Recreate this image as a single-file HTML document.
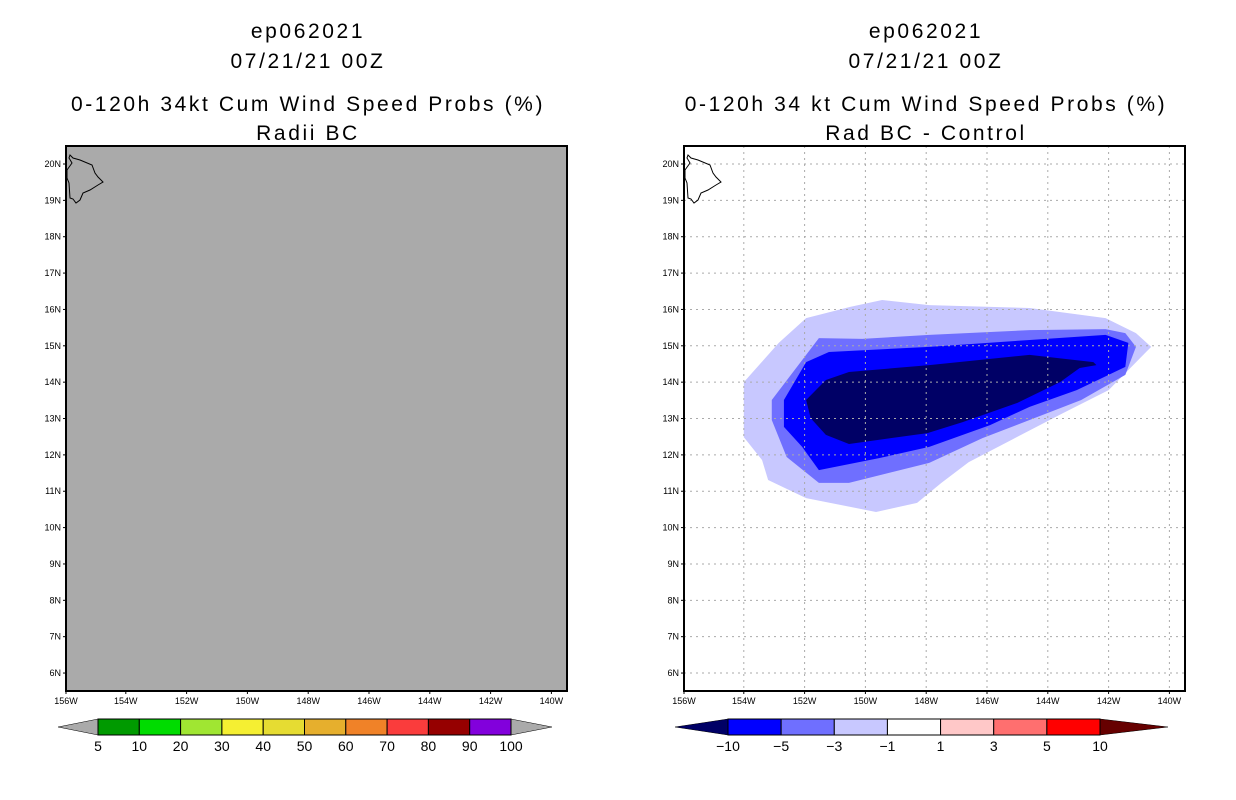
<!DOCTYPE html>
<html><head><meta charset="utf-8"><style>
body{margin:0;background:#fff;width:1236px;height:800px;overflow:hidden}
svg{display:block;font-family:"Liberation Sans",sans-serif}
.t{font-size:21px;letter-spacing:2.6px;text-anchor:middle}
.tk{font-size:9px;text-anchor:middle}
.cb{font-size:14px;text-anchor:middle}
</style></head><body>
<svg id="chart" width="1236" height="800" viewBox="0 0 1236 800">
<g>
<text class="t" x="308" y="38">ep062021</text>
<text class="t" x="308" y="68">07/21/21 00Z</text>
<text class="t" x="308" y="111">0-120h 34kt Cum Wind Speed Probs (%)</text>
<text class="t" x="308" y="140">Radii BC</text>
</g>
<g>
<text class="t" x="926" y="38">ep062021</text>
<text class="t" x="926" y="68">07/21/21 00Z</text>
<text class="t" x="926" y="111">0-120h 34 kt Cum Wind Speed Probs (%)</text>
<text class="t" x="926" y="140">Rad BC - Control</text>
</g>
<g id="left"></g>
<g id="right"></g>
<g id="cbl"></g>
<g id="cbr"></g>
</svg>
<script>
const lonTicks=[154,152,150,148,146,144,142,140];
const latTicks=[6,7,8,9,10,11,12,13,14,15,16,17,18,19,20];
const outerLon=[154.0,154.0,153.4,153.2,151.95,149.65,148.3,147.5,146.6,145.2,143.5,142.0,140.6,141.1,142.1,144.6,147.9,149.45,150.5,151.95,152.85];
const outerLat=[14.0,12.49,11.86,11.31,10.81,10.43,10.68,11.23,11.80,12.41,13.15,13.78,14.97,15.35,15.76,16.04,16.12,16.26,16.07,15.76,15.08];
const midLon=[151.53,153.08,153.08,152.59,151.53,150.54,147.9,146.15,144.6,142.9,141.45,141.1,141.45,142.1,144.6,147.9,150.1];
const midLat=[15.21,13.51,12.96,11.94,11.23,11.23,11.78,12.46,12.96,13.51,14.2,14.97,15.35,15.46,15.43,15.3,15.19];
const blueLon=[151.95,152.68,152.68,152.08,151.53,149.55,147.9,145.9,144.6,143.05,141.45,141.35,142.1,144.6,147.9,151.2];
const blueLat=[14.55,13.51,12.77,12.22,11.58,11.91,12.22,12.82,13.32,13.78,14.42,15.08,15.30,15.16,14.97,14.83];
const darkLon=[151.95,151.3,150.54,147.9,144.6,142.5,142.4,142.95,143.6,145.0,146.8,147.96,150.54,151.3,151.8];
const darkLat=[13.51,14.06,14.28,14.47,14.75,14.55,14.47,14.39,14.0,13.43,12.9,12.6,12.3,12.55,13.01];
const leftLevels=["5","10","20","30","40","50","60","70","80","90","100"];
const leftColors=["#009a00","#00dc00","#a0e632","#f5ef32","#e6dc32","#e6af2d","#f08228","#fa3c3c","#960000","#8200dc"];
const rightLevels=["-10","-5","-3","-1","1","3","5","10"];
const rightColors=["#0000ff","#6f6fff","#c8c8ff","#ffffff","#ffc8c8","#ff6f6f","#ff0000"];
const NS="http://www.w3.org/2000/svg";
function mk(p,tag,a){const e=document.createElementNS(NS,tag);for(const k in a)e.setAttribute(k,a[k]);p.appendChild(e);return e;}
const PY0=146,PW=501,PH=545;
function xs(x0,w){return x0+(156-w)*30.4-1;}
function ys(lat){return 164+(20-lat)*36.36;}
const island=[[4,9],[7,12],[14,14],[26,19],[29,27],[32,31],[37,36],[32,39],[24,44],[17,47],[14,54],[10,57],[7,53],[4,52],[3,37],[1,32],[1,24],[6,17],[3,12]];
function panel(g,x0,grid,fill){
  if(!grid){const r=mk(g,'rect',{x:x0,y:PY0,width:PW,height:PH,fill:fill});}
  else{
    const sets=[[outerLon,outerLat,'#c8c8ff','contour-minus1'],[midLon,midLat,'#6f6fff','contour-minus3'],[blueLon,blueLat,'#0000ff','contour-minus5'],[darkLon,darkLat,'#000066','contour-minus10']];
    sets.forEach(s=>{const pts=s[0].map((w,i)=>xs(x0,w)+','+ys(s[1][i])).join(' ');
      const p=mk(g,'polygon',{points:pts,fill:s[2]});
      
      });
    lonTicks.forEach(w=>{const l=mk(g,'line',{x1:xs(x0,w),x2:xs(x0,w),y1:PY0,y2:PY0+PH,stroke:'#aaa','stroke-dasharray':'2,4'});
      
      });
    latTicks.forEach(v=>{const l=mk(g,'line',{x1:x0,x2:x0+PW,y1:ys(v),y2:ys(v),stroke:'#aaa','stroke-dasharray':'2,4'});
      
      });
  }
  const isl=mk(g,'polygon',{points:island.map(p=>(x0+p[0])+','+(PY0+p[1])).join(' '),fill:'none',stroke:'#000','stroke-width':1});
  
  
  const fr=mk(g,'rect',{x:x0,y:PY0,width:PW,height:PH,fill:'none',stroke:'#000','stroke-width':2});
  
  
  lonTicks.concat([156]).forEach(w=>{const x=xs(x0,w)+(w==156?1:0);
    mk(g,'line',{x1:x,x2:x,y1:PY0+PH,y2:PY0+PH+3,stroke:'#000'});
    const t=mk(g,'text',{x:x,y:704,class:'tk'});t.textContent=w+'W';
    
    });
  latTicks.forEach(v=>{mk(g,'line',{x1:x0-3,x2:x0,y1:ys(v),y2:ys(v),stroke:'#000'});
    const t=mk(g,'text',{x:x0-5,y:ys(v)+3,class:'tk'});t.style.textAnchor='end';t.textContent=v+'N';
    
    });
}
panel(document.getElementById('left'),66,false,'#aaaaaa');
panel(document.getElementById('right'),684,true,'#fff');
function colorbar(g,tipL,x0,x1,tipR,cols,labs,lc,rc){
  const y0=719,y1=735,ym=727,n=cols.length,w=(x1-x0)/n;
  const a=mk(g,'polygon',{points:`${tipL},${ym} ${x0},${y0} ${x0},${y1}`,fill:lc,stroke:'#000','stroke-width':0.5});
  
  
  const b=mk(g,'polygon',{points:`${tipR},${ym} ${x1},${y0} ${x1},${y1}`,fill:rc,stroke:'#000','stroke-width':0.5});
  
  
  cols.forEach((c,i)=>{const r=mk(g,'rect',{x:x0+i*w,y:y0,width:w,height:y1-y0,fill:c,stroke:'#000','stroke-width':1});
    
    });
  labs.forEach((l,i)=>{const t=mk(g,'text',{x:x0+i*w,y:751,class:'cb'});t.textContent=l.replace('-','\u2212');
    
    });
}
colorbar(document.getElementById('cbl'),58,98,511,552,leftColors,leftLevels,'#aaaaaa','#aaaaaa');
colorbar(document.getElementById('cbr'),675,728,1100,1168,rightColors,rightLevels,'#000066','#660000');
</script>
</body></html>
